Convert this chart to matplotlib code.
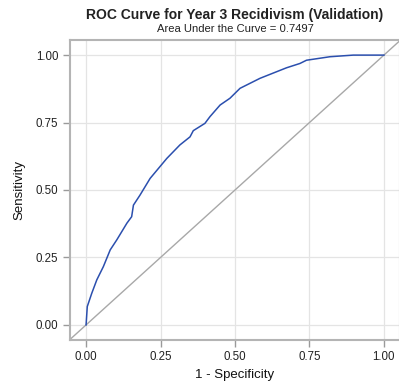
import matplotlib
matplotlib.use("Agg")
import matplotlib.pyplot as plt

plt.rcParams['font.family'] = ['Liberation Sans', 'DejaVu Sans']

fpr = [0.0, 0.004, 0.019, 0.036, 0.058, 0.081, 0.103, 0.137, 0.153, 0.159, 0.181,
       0.215, 0.271, 0.315, 0.349, 0.360, 0.399, 0.416, 0.450, 0.483, 0.517,
       0.584, 0.673, 0.718, 0.740, 0.819, 0.897, 1.0]
tpr = [0.0, 0.068, 0.117, 0.167, 0.216, 0.278, 0.315, 0.377, 0.401, 0.444, 0.481,
       0.543, 0.617, 0.667, 0.697, 0.720, 0.747, 0.772, 0.815, 0.840, 0.877,
       0.914, 0.953, 0.969, 0.981, 0.994, 1.0, 1.0]
ticks = [0.0, 0.25, 0.5, 0.75, 1.0]
tick_labels = ['0.00', '0.25', '0.50', '0.75', '1.00']
title = 'ROC Curve for Year 3 Recidivism (Validation)'
subtitle = 'Area Under the Curve = 0.7497'

W, H = 399, 381
fig = plt.figure(figsize=(W / 100, H / 100), dpi=100)
ax = fig.add_axes([70 / W, 41 / H, 330 / W, 300 / H])

ax.set_xlim(-0.054, 1.054)
ax.set_ylim(-0.056, 1.056)

ax.plot([-0.054, 1.054], [-0.054, 1.054], color='#a8a8a8', lw=1.0, zorder=2)
ax.plot(fpr, tpr, color='#2b4fae', lw=1.1, zorder=3)

ax.set_xticks(ticks)
ax.set_xticklabels(tick_labels)
ax.set_yticks(ticks)
ax.set_yticklabels(tick_labels)
ax.grid(True, color='#e4e4e4', lw=0.9, zorder=0)
ax.set_axisbelow(True)
for s in ax.spines.values():
    s.set_color('#b4b4b4')
    s.set_linewidth(1.5)
ax.tick_params(axis='both', colors='#9a9a9a', labelcolor='#222222', labelsize=8.3,
               length=5, width=1)
ax.tick_params(axis='x', pad=3)
ax.set_xlabel('1 - Specificity', fontsize=9.5, color='#111111', labelpad=4)
ax.set_ylabel('Sensitivity', fontsize=9.5, color='#111111', labelpad=7)

fig.text(235 / W, 1 - 15 / H, title, ha='center', va='center', fontsize=10,
         fontweight='bold', color='#222222')
fig.text(235 / W, 1 - 28.5 / H, subtitle, ha='center', va='center', fontsize=8.1,
         color='#222222')

fig.savefig('out.png', dpi=100)
